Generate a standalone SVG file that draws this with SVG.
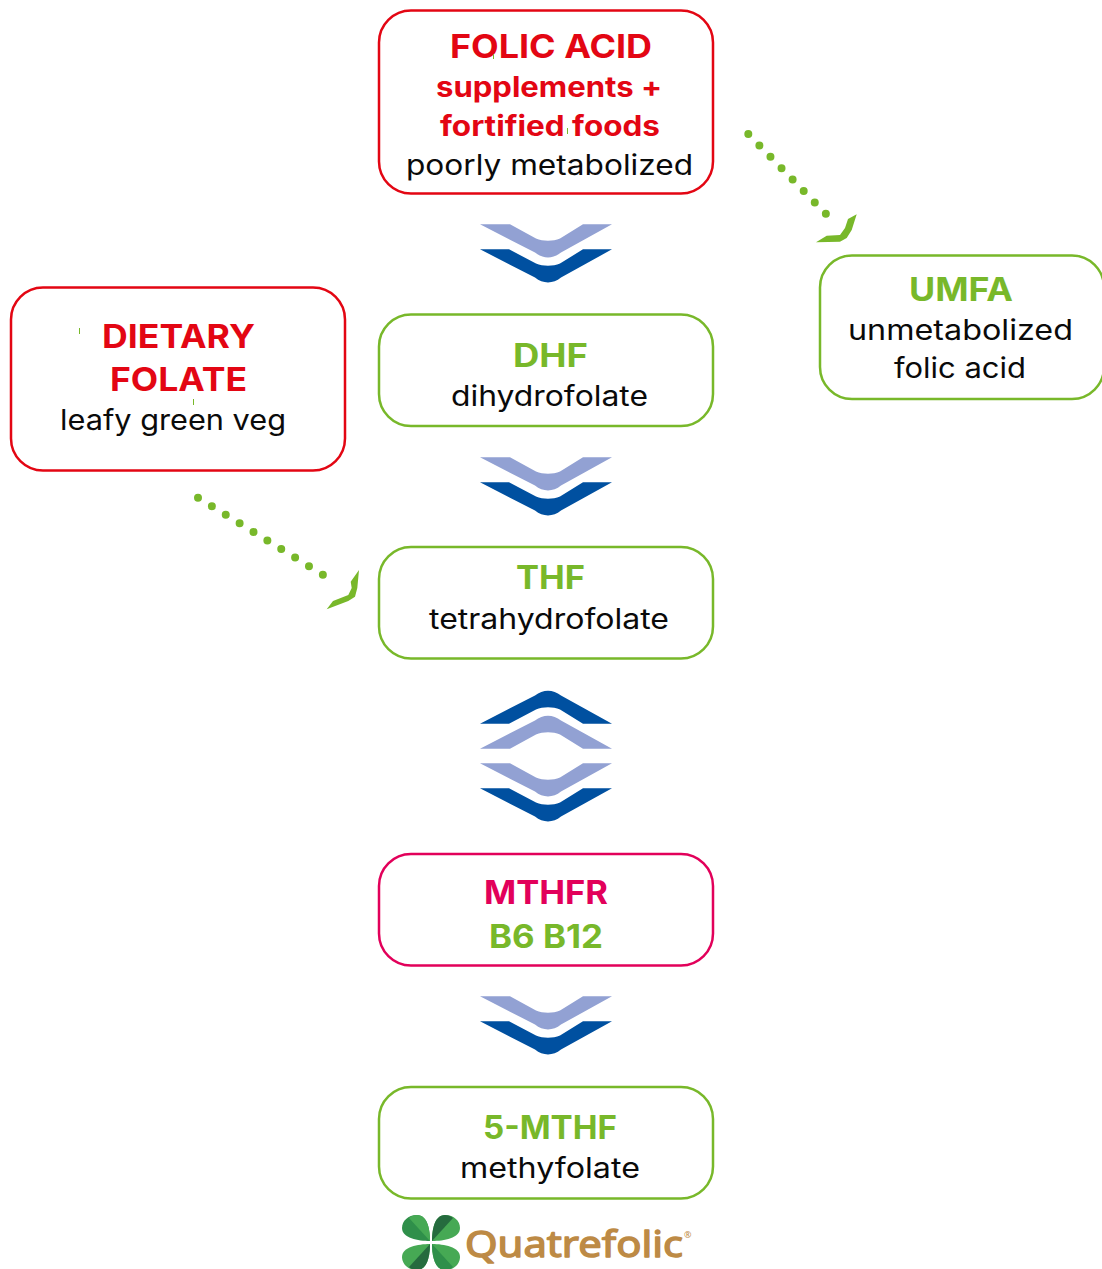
<svg xmlns="http://www.w3.org/2000/svg" width="1102" height="1269" viewBox="0 0 1102 1269">
<style>
text{font-family:"Inter","Liberation Sans",sans-serif}
.box{fill:#fff;stroke-width:2.5}
.r{stroke:#e30613}.g{stroke:#78b82a}.m{stroke:#e2005a}
.b{font-weight:700}
.t1{font-size:32px}.t2{font-size:28px}.t3{font-size:28px;font-weight:400;fill:#0a0a0a}
.cr{fill:#e30613}.cg{fill:#78b82a}.cm{fill:#e2005a}
.dots{fill:none;stroke:#78b82a;stroke-width:8;stroke-linecap:round}
.head{fill:#78b82a}
.speck{stroke:#78b82a;stroke-width:1}
.light{fill:#92a1d3}.dark{fill:#0050a0}
.logo{font-family:"Noto Sans",sans-serif;font-weight:400;fill:#bd8a45;stroke:#bd8a45;stroke-width:1.4;stroke-linejoin:round}
</style>
<defs>
<g id="chev">
<path class="light" d="M480,224.300H510L536,238.500C543,241.500 553,241.500 560,238.500L583,224.300H612L561,252.500C553,259 543,259 535,252.500Z"/>
<path class="dark" d="M480,249.300H509L536,263.500C543,266.500 553,266.500 560,263.500L583,249.300H612L561,277.500C553,284 543,284 535,277.500Z"/>
</g>
<path id="leaf" d="M0,0C0,-10 -2,-26 -13,-26C-22,-26 -28,-20 -28,-13C-28,-3 -12,0 0,0Z"/>
<path id="half" d="M0,0C0,-10 -2,-26 -13,-26C-16,-26 -19,-25 -21,-23Z"/>
</defs>
<g id="connectors">
<use href="#chev"/>
<use href="#chev" y="233"/>
<use href="#chev" transform="translate(0,973) scale(1,-1)"/>
<use href="#chev" y="539"/>
<use href="#chev" y="772"/>
<path class="dots" stroke-dasharray="0 15.9" d="M748.300,134L826,214"/>
<path class="head" d="M816,242.300L826.700,235.700L840,235L845,228L848,219L856.700,214.300L851.700,230L846.700,238L840,241.700Z"/>
<path class="dots" stroke-dasharray="0 16.3" d="M198,497.700L323.300,575"/>
<path class="head" d="M326.700,609.300L333,601L348.300,595L351.700,588L350.700,581.700L359,570L357.300,588L355,596.700L348.300,601Z"/>
</g>
<g id="folic-acid">
<rect class="box r" x="379" y="10.500" width="334" height="183" rx="32"/>
<text class="b t1 cr" x="450" y="58" textLength="202" lengthAdjust="spacingAndGlyphs">FOLIC ACID</text>
<text class="b t2 cr" x="436" y="97" textLength="226" lengthAdjust="spacingAndGlyphs">supplements +</text>
<text class="b t2 cr" x="440" y="136" textLength="220" lengthAdjust="spacingAndGlyphs">fortified foods</text>
<text class="t3" x="406" y="175" textLength="287" lengthAdjust="spacingAndGlyphs">poorly metabolized</text>
<path class="speck" d="M493.500,54V59M567.500,128V134"/>
</g>
<g id="umfa">
<rect class="box g" x="820" y="255.500" width="284" height="143.500" rx="32"/>
<text class="b t1 cg" x="909" y="301" textLength="104" lengthAdjust="spacingAndGlyphs">UMFA</text>
<text class="t3" x="848" y="340" textLength="225" lengthAdjust="spacingAndGlyphs">unmetabolized</text>
<text class="t3" x="894" y="378" textLength="132" lengthAdjust="spacingAndGlyphs">folic acid</text>
</g>
<g id="dietary-folate">
<rect class="box r" x="11" y="287.500" width="334" height="183" rx="32"/>
<text class="b t1 cr" x="102" y="348" textLength="153" lengthAdjust="spacingAndGlyphs">DIETARY</text>
<text class="b t1 cr" x="110" y="391" textLength="137" lengthAdjust="spacingAndGlyphs">FOLATE</text>
<text class="t3" x="60" y="430" textLength="226" lengthAdjust="spacingAndGlyphs">leafy green veg</text>
<path class="speck" d="M79.500,328V334M193.500,399V405"/>
</g>
<g id="dhf">
<rect class="box g" x="379" y="314.500" width="334" height="111.500" rx="32"/>
<text class="b t1 cg" x="513" y="367" textLength="75" lengthAdjust="spacingAndGlyphs">DHF</text>
<text class="t3" x="451" y="406" textLength="197" lengthAdjust="spacingAndGlyphs">dihydrofolate</text>
</g>
<g id="thf">
<rect class="box g" x="379" y="547" width="334" height="111.500" rx="32"/>
<text class="b t1 cg" x="516" y="589" textLength="69" lengthAdjust="spacingAndGlyphs">THF</text>
<text class="t3" x="429" y="629" textLength="240" lengthAdjust="spacingAndGlyphs">tetrahydrofolate</text>
</g>
<g id="mthfr">
<rect class="box m" x="379" y="854" width="334" height="111.500" rx="32"/>
<text class="b t1 cm" x="484" y="904" textLength="124" lengthAdjust="spacingAndGlyphs">MTHFR</text>
<text class="b t1 cg" x="489" y="948" textLength="114" lengthAdjust="spacingAndGlyphs">B6 B12</text>
</g>
<g id="five-mthf">
<rect class="box g" x="379" y="1087" width="334" height="111.500" rx="32"/>
<text class="b t1 cg" x="483" y="1139" textLength="134" lengthAdjust="spacingAndGlyphs">5-MTHF</text>
<text class="t3" x="460" y="1178" textLength="180" lengthAdjust="spacingAndGlyphs">methyfolate</text>
</g>
<g id="quatrefolic-logo">
<g transform="translate(430,1241)"><use href="#leaf" fill="#2f8f4a"/><use href="#half" fill="#46a954"/></g>
<g transform="translate(432,1241) scale(-1,1)"><use href="#leaf" fill="#46a954"/><use href="#half" fill="#256b3e"/></g>
<g transform="translate(430,1244) scale(1,-1)"><use href="#leaf" fill="#46a954"/><use href="#half" fill="#256b3e"/></g>
<g transform="translate(432,1244) scale(-1,-1)"><use href="#leaf" fill="#46a954"/><use href="#half" fill="#2f8f4a"/></g>
<text class="logo" x="465" y="1257" font-size="37" textLength="218" lengthAdjust="spacingAndGlyphs">Quatrefolic</text>
<text class="logo" x="684" y="1238" font-size="9" style="stroke:none">®</text>
</g>
</svg>
